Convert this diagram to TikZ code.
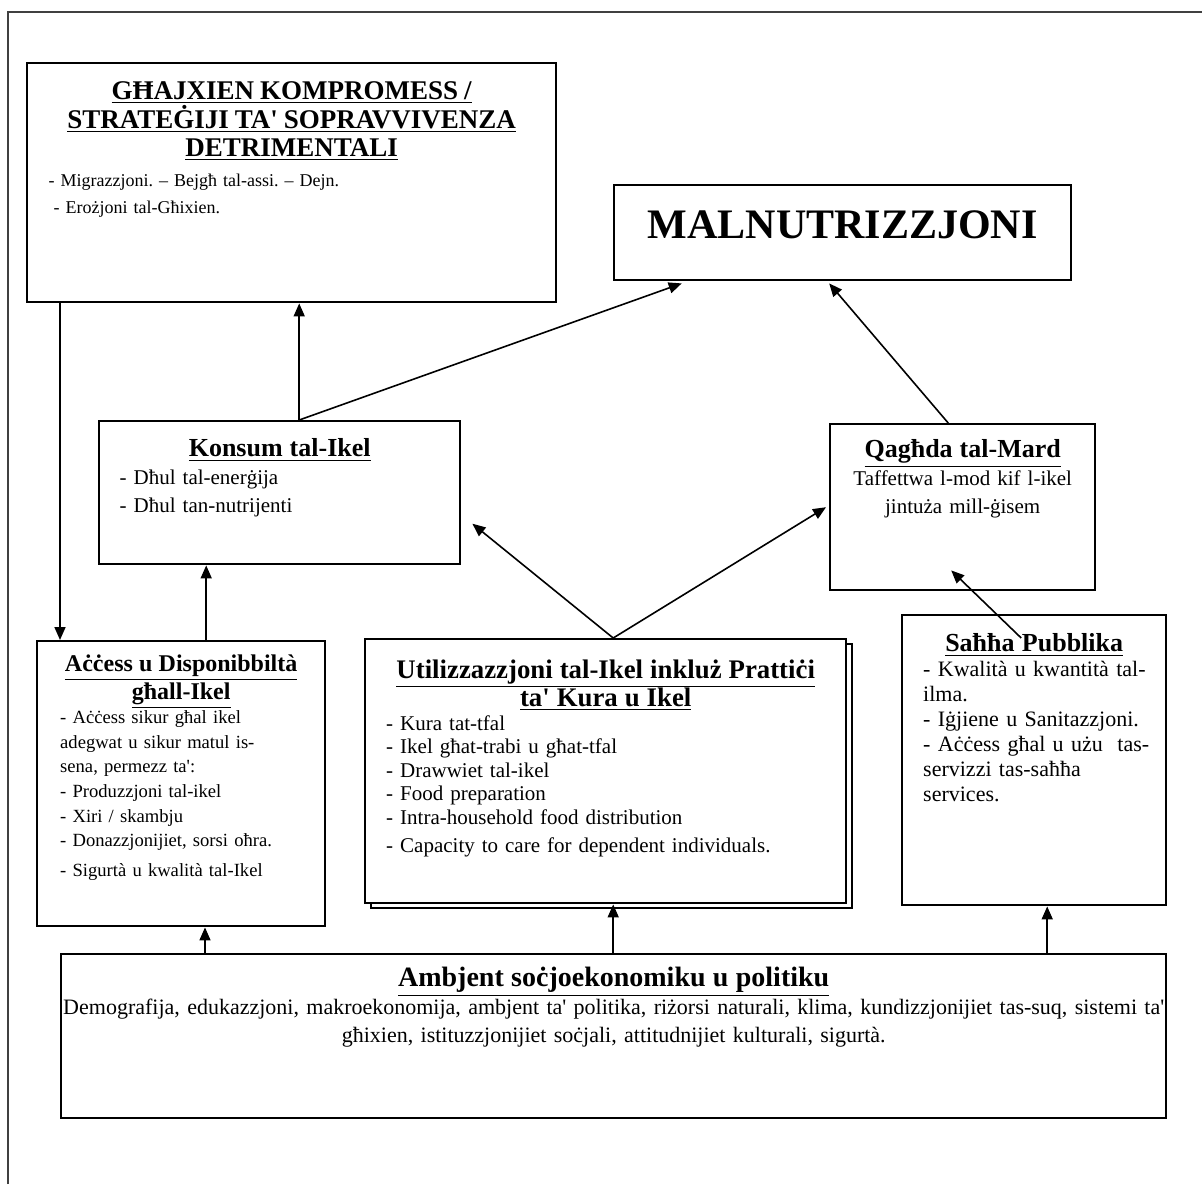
\documentclass[tikz,border=0pt]{standalone}
\usepackage{fontspec}
\setmainfont{Liberation Serif}
\usetikzlibrary{arrows.meta,shadows}

\newcommand{\apos}{\textquotesingle}
\newcommand{\ttl}[2][13]{{\centering\fontsize{#1}{14.25}\bfseries #2\par}}
\frenchspacing

\begin{document}
\begin{tikzpicture}[x=0.5pt,y=-0.5pt,
	box/.style={draw,fill=white,line width=1.2pt,rectangle,inner sep=0pt,anchor=north west},
	txt/.style={inner sep=0pt,anchor=north,align=left},
	arr/.style={-{Triangle[length=6.5pt,width=5.5pt]},line width=0.8pt}
	]
	
	\useasboundingbox (0,0) rectangle (1202,1184);
	\draw[line width=1.1pt,black!75] (8,1184) -- (8,12) -- (1202,12);
	
	% boxes
	\node[box,minimum width=264.5pt,minimum height=119.5pt] (gh) at (26,62) {};
	\node[box,minimum width=228.5pt,minimum height=47.5pt] (mal) at (613,184) {};
	\node[box,minimum width=180.5pt,minimum height=71.5pt] (kon) at (98,420) {};
	\node[box,minimum width=132.5pt,minimum height=83pt] (qag) at (829,423) {};
	\node[box,minimum width=144pt,minimum height=142.5pt] (acc) at (36,640) {};
	\node[box,minimum width=240.5pt,minimum height=132pt,
		copy shadow={shadow xshift=3pt,shadow yshift=-2.5pt}] (util) at (364,638) {};
	\node[box,minimum width=132pt,minimum height=145pt] (sah) at (901,614) {};
	\node[box,minimum width=552.5pt,minimum height=82pt] (amb) at (60,953) {};
	
	% texts
	\node[txt,text width=243pt,font=\fontsize{9}{13.5}\selectfont] (ghT) at ([yshift=-9.7pt]gh.north)
		{\ttl[13.5]{\underline{GĦAJXIEN KOMPROMESS /}\\\underline{STRATEĠIJI TA\apos{} SOPRAVVIVENZA}\\\underline{DETRIMENTALI}}\vspace{1.5pt}
		- Migrazzjoni. – Bejgħ tal-assi. – Dejn.\\\hspace*{2.5pt}- Erożjoni tal-Għixien.};
	\node[txt,align=center,font=\fontsize{21}{24}\bfseries] (malT) at ([yshift=-13pt]mal.north) {MALNUTRIZZJONI};
	\node[txt,text width=160pt,font=\fontsize{10.5}{14}\selectfont] (konT) at ([yshift=-9.2pt]kon.north)
		{\ttl{\underline{Konsum tal-Ikel}}- Dħul tal-enerġija\\- Dħul tan-nutrijenti};
	\node[txt,align=center,text width=120pt,font=\fontsize{10.5}{14}\selectfont] (qagT) at ([yshift=-8.2pt]qag.north)
		{\ttl{\underline{Qagħda tal-Mard}}Taffettwa l-mod kif l-ikel\\jintuża mill-ġisem};
	\node[txt,text width=121pt,font=\fontsize{9.3}{12.3}\selectfont] (accT) at ([yshift=-7pt]acc.north)
		{{\centering\fontsize{12}{14}\bfseries\underline{Aċċess u Disponibbiltà}\\\underline{għall-Ikel}\par}
		-\ Aċċess sikur għal ikel\\adegwat u sikur matul is-\\sena, permezz ta\apos:\\- Produzzjoni tal-ikel\\- Xiri / skambju\\
		- Donazzjonijiet, sorsi oħra.\\[2.5pt]- Sigurtà u kwalità tal-Ikel};
	\node[txt,text width=219.5pt,font=\fontsize{10.5}{11.8}\selectfont] (utilT) at ([yshift=-10.5pt]util.north)
		{\ttl[13.4]{\underline{Utilizzazzjoni tal-Ikel inkluż Prattiċi}\\\underline{ta\apos{} Kura u Ikel}}
		- Kura tat-tfal\\- Ikel għat-trabi u għat-tfal\\- Drawwiet tal-ikel\\- Food preparation\\
		- Intra-household food distribution\\[2pt]- Capacity to care for dependent individuals.};
	\node[txt,text width=118pt,font=\fontsize{11}{12.5}\selectfont] (sahT) at ([xshift=3.5pt,yshift=-9.7pt]sah.north)
		{\ttl{\hspace*{-7pt}\underline{Saħħa Pubblika}}- Kwalità u kwantità tal-\\ilma.\\- Iġjiene u Sanitazzjoni.\\
		- Aċċess għal u użu\ \ tas-\\servizzi tas-saħħa\\services.};
	\node[txt,align=center,text width=552pt,font=\fontsize{11}{14}\selectfont] (ambT) at ([yshift=-6.7pt]amb.north)
		{\ttl[14]{\underline{Ambjent soċjoekonomiku u politiku}}
		Demografija, edukazzjoni, makroekonomija, ambjent ta\apos{} politika, riżorsi naturali, klima, kundizzjonijiet tas-suq, sistemi ta\apos\\
		għixien, istituzzjonijiet soċjali, attitudnijiet kulturali, sigurtà.};
	
	% arrows
	\draw[arr] ([xshift=17pt]gh.south west) -- ([xshift=12pt]acc.north west);
	\draw[arr] ([xshift=9.75pt]kon.north) -- ([xshift=9.75pt]kon.north |- gh.south);
	\draw[arr] ([xshift=9.75pt]kon.north) -- ([xshift=-80.5pt,yshift=-1pt]mal.south);
	\draw[arr] ([xshift=-7.25pt]qag.north) -- ([xshift=-6.75pt,yshift=-1pt]mal.south);
	\draw[arr] ([xshift=12.5pt]acc.north) -- ([xshift=12.5pt]acc.north |- kon.south);
	\draw[arr] ([xshift=3.75pt]util.north) -- ([xshift=5.5pt,yshift=-15.5pt]kon.east);
	\draw[arr] ([xshift=3.75pt]util.north) -- ([xshift=-1.5pt]qag.west);
	\draw[arr] ([xshift=-6.5pt,yshift=-12pt]sah.north) -- ([xshift=-5.75pt,yshift=10.5pt]qag.south);
	\draw[arr] ([xshift=72.5pt]amb.north west) -- ([xshift=72.5pt]amb.north west |- acc.south);
	\draw[arr] ([xshift=3.75pt]util.south |- amb.north) -- ([xshift=3.75pt]util.south);
	\draw[arr] ([xshift=6.5pt]sah.south |- amb.north) -- ([xshift=6.5pt]sah.south);
\end{tikzpicture}
\end{document}
